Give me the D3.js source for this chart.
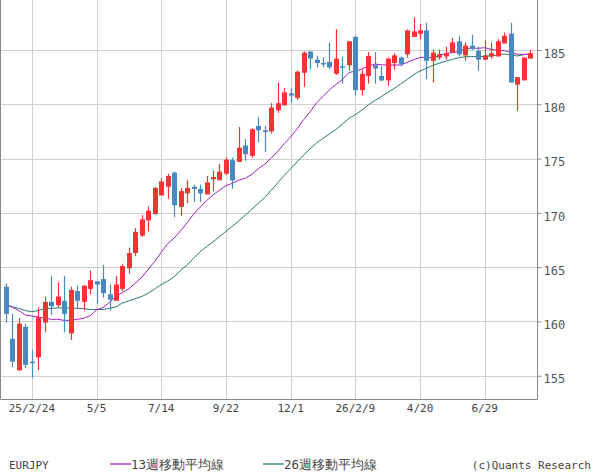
<!DOCTYPE html>
<html><head><meta charset="utf-8">
<script src="https://cdn.jsdelivr.net/npm/d3@7"></script>
<style>body{margin:0;background:#fff}</style></head>
<body><svg id="c" width="600" height="475"></svg>
<script>
const opens  = [163.2,158.4,155.5,159.5,156.3,156.7,159.9,161.8,161.5,161.9,158.9,162.8,161.8,163.0,163.7,163.9,162.5,161.9,163.0,164.9,
166.3,167.9,169.3,169.9,171.6,172.4,173.7,170.55,171.8,172.4,172.2,171.7,173.1,173.0,173.6,174.85,174.7,176.2,175.25,178.0,
177.6,177.5,179.45,179.9,181.0,180.6,182.9,184.85,184.1,183.8,183.9,182.8,183.5,183.6,186.2,181.3,182.6,183.6,182.6,182.2,
183.8,184.3,184.6,186.2,186.5,186.8,184.0,184.3,184.4,184.75,185.8,184.5,185.4,184.9,184.1,184.4,184.4,185.6,186.5,181.8,
182.2,184.2];
const closes = [160.7,156.3,159.8,156.0,156.2,160.4,161.8,161.4,162.3,160.7,162.9,161.9,163.3,163.8,163.4,162.6,162.0,163.4,165.1,166.3,
168.25,169.4,170.2,172.3,172.9,173.4,170.7,172.0,172.3,172.2,171.8,172.8,173.3,173.8,174.9,173.0,176.0,175.4,177.7,177.6,
177.45,179.7,180.1,181.1,180.8,183.0,184.75,184.2,183.8,183.7,183.4,184.2,183.4,185.8,181.3,182.8,184.45,183.3,182.2,184.2,
184.5,183.7,186.8,186.7,186.8,184.0,184.75,184.6,184.7,185.7,184.6,185.4,185.1,184.1,184.5,184.7,185.8,186.3,182.0,182.5,
184.3,184.7];
const highs  = [163.5,160.7,160.3,159.8,157.4,161.3,162.3,164.2,163.6,164.2,163.2,163.3,163.3,164.7,163.7,165.2,163.4,164.2,165.3,166.8,
168.6,169.8,170.6,172.4,173.2,173.6,173.8,172.3,173.0,172.6,172.6,173.4,173.9,174.5,175.1,175.1,177.9,176.8,177.8,178.8,
178.0,180.1,182.0,181.5,181.5,183.1,184.85,184.9,184.45,184.3,185.7,186.9,184.4,185.8,186.3,183.2,184.8,184.8,183.5,184.3,
184.7,184.4,186.9,188.0,187.4,187.5,185.05,185.05,185.3,186.1,186.3,185.7,186.4,185.3,185.9,185.7,186.0,186.6,187.5,182.5,
184.3,185.0];
const lows   = [159.9,155.8,155.5,155.7,154.8,155.5,159.0,160.6,161.3,159.0,158.3,161.2,161.0,162.5,161.6,162.2,161.0,161.9,162.8,164.4,
166.0,167.8,168.3,169.8,171.6,171.3,169.6,169.7,170.9,171.0,171.0,171.7,172.0,173.0,173.5,172.2,174.7,174.8,175.1,176.5,
175.6,177.3,179.2,179.9,180.1,180.4,181.6,183.2,183.4,183.4,183.2,182.7,181.9,183.1,180.8,180.8,181.9,181.9,182.1,181.7,
183.2,183.5,184.3,186.2,186.0,182.3,182.0,184.1,184.1,184.75,184.4,184.0,185.0,183.1,184.1,184.2,184.4,185.6,182.0,179.4,
182.2,184.2];
// moving-average values before a full window exists
const ma13Start = [161.6,161.3,161.0,160.6,160.5,160.4,160.3,160.2,160.2,160.1,160.1,160.2];
const ma26Start = [161.5,161.35,161.2,161.0,160.9,161.0,161.2,161.2,161.25,161.25,161.25,161.2,161.2,161.1,161.1,161.1,161.2,161.35,161.7,161.9,162.1,162.3,162.6,163.0,163.4];
const xLabels = ["25/2/24","5/5","7/14","9/22","12/1","26/2/9","4/20","6/29"];
const xLabelIdx = [4,14,24,34,44,54,64,74];
const yTicks = [155,160,165,170,175,180,185];

function sma(n, start){
  return closes.map((c,i)=> i < n-1 ? start[i] : d3.mean(closes.slice(i-n+1,i+1)));
}
const ma13 = sma(13, ma13Start), ma26 = sma(26, ma26Start);

const svg = d3.select("#c");
const W=537, H=399;
const x = d3.scaleLinear().domain([0,81]).range([6,530]);
const y = d3.scaleLinear().domain([152.86,189.6]).range([H,0]);
const font = "'DejaVu Sans Mono', monospace";

const g = svg.append("g");
g.selectAll(".hg").data(yTicks).join("line")
 .attr("x1",0).attr("x2",W).attr("y1",d=>Math.round(y(d))+0.5).attr("y2",d=>Math.round(y(d))+0.5)
 .attr("stroke","#cfcfcf");
g.selectAll(".vg").data(xLabelIdx).join("line")
 .attr("x1",d=>Math.round(x(d))+0.5).attr("x2",d=>Math.round(x(d))+0.5).attr("y1",0).attr("y2",H)
 .attr("stroke","#cfcfcf");

const line = d3.line().x((d,i)=>x(i)).y(d=>y(d));
g.append("path").attr("d",line(ma26)).attr("fill","none").attr("stroke","#2a7a72").attr("stroke-width",1);
g.append("path").attr("d",line(ma13)).attr("fill","none").attr("stroke","#a020c8").attr("stroke-width",1);

const col = i => closes[i] >= opens[i] ? "#f43434" : "#4a88c0";
const idx = d3.range(closes.length);
g.selectAll(".wk").data(idx).join("line")
 .attr("x1",i=>Math.round(x(i))+0.5).attr("x2",i=>Math.round(x(i))+0.5)
 .attr("y1",i=>y(highs[i])).attr("y2",i=>y(lows[i])).attr("stroke",col).attr("stroke-width",1.2);
g.selectAll(".bd").data(idx).join("rect")
 .attr("x",i=>Math.round(x(i))-2).attr("width",5)
 .attr("y",i=>y(Math.max(opens[i],closes[i])))
 .attr("height",i=>Math.max(1.5, Math.abs(y(opens[i])-y(closes[i]))))
 .attr("fill",col);

// frame
svg.append("path").attr("d",`M0.5,0 V${H+0.5} H${W+0.5} V0`).attr("fill","none").attr("stroke","#888");
// right axis
const ya = d3.axisRight(y).tickValues(yTicks).tickSize(4).tickPadding(2);
const ay = svg.append("g").attr("transform",`translate(${W+0.5},0)`).call(ya);
ay.select(".domain").remove();
ay.selectAll("line").attr("stroke","#888");
ay.selectAll("text").attr("font-family",font).attr("font-size",12).attr("fill","#555").attr("dy","0.6em");

svg.selectAll(".xl").data(xLabels).join("text")
 .attr("x",(d,i)=>x(xLabelIdx[i])).attr("y",412).attr("text-anchor","middle")
 .attr("font-family",font).attr("font-size",11).attr("fill","#444").text(d=>d);

const ly=469;
svg.append("text").attr("x",9).attr("y",ly).attr("font-family",font).attr("font-size",11).attr("fill","#444").text("EURJPY");
const leg=[["13週移動平均線","#a020c8",110],["26週移動平均線","#2a7a72",263]];
leg.forEach(([t,c,lx])=>{
  svg.append("line").attr("x1",lx).attr("x2",lx+21).attr("y1",ly-5).attr("y2",ly-5).attr("stroke",c).attr("stroke-width",1.3);
  svg.append("text").attr("x",lx+21).attr("y",ly).attr("font-family",font).attr("font-size",12.5).attr("fill","#444").text(t);
});
svg.append("text").attr("x",591).attr("y",ly).attr("text-anchor","end").attr("font-family",font).attr("font-size",11).attr("fill","#444").text("(c)Quants Research");
</script></body></html>
